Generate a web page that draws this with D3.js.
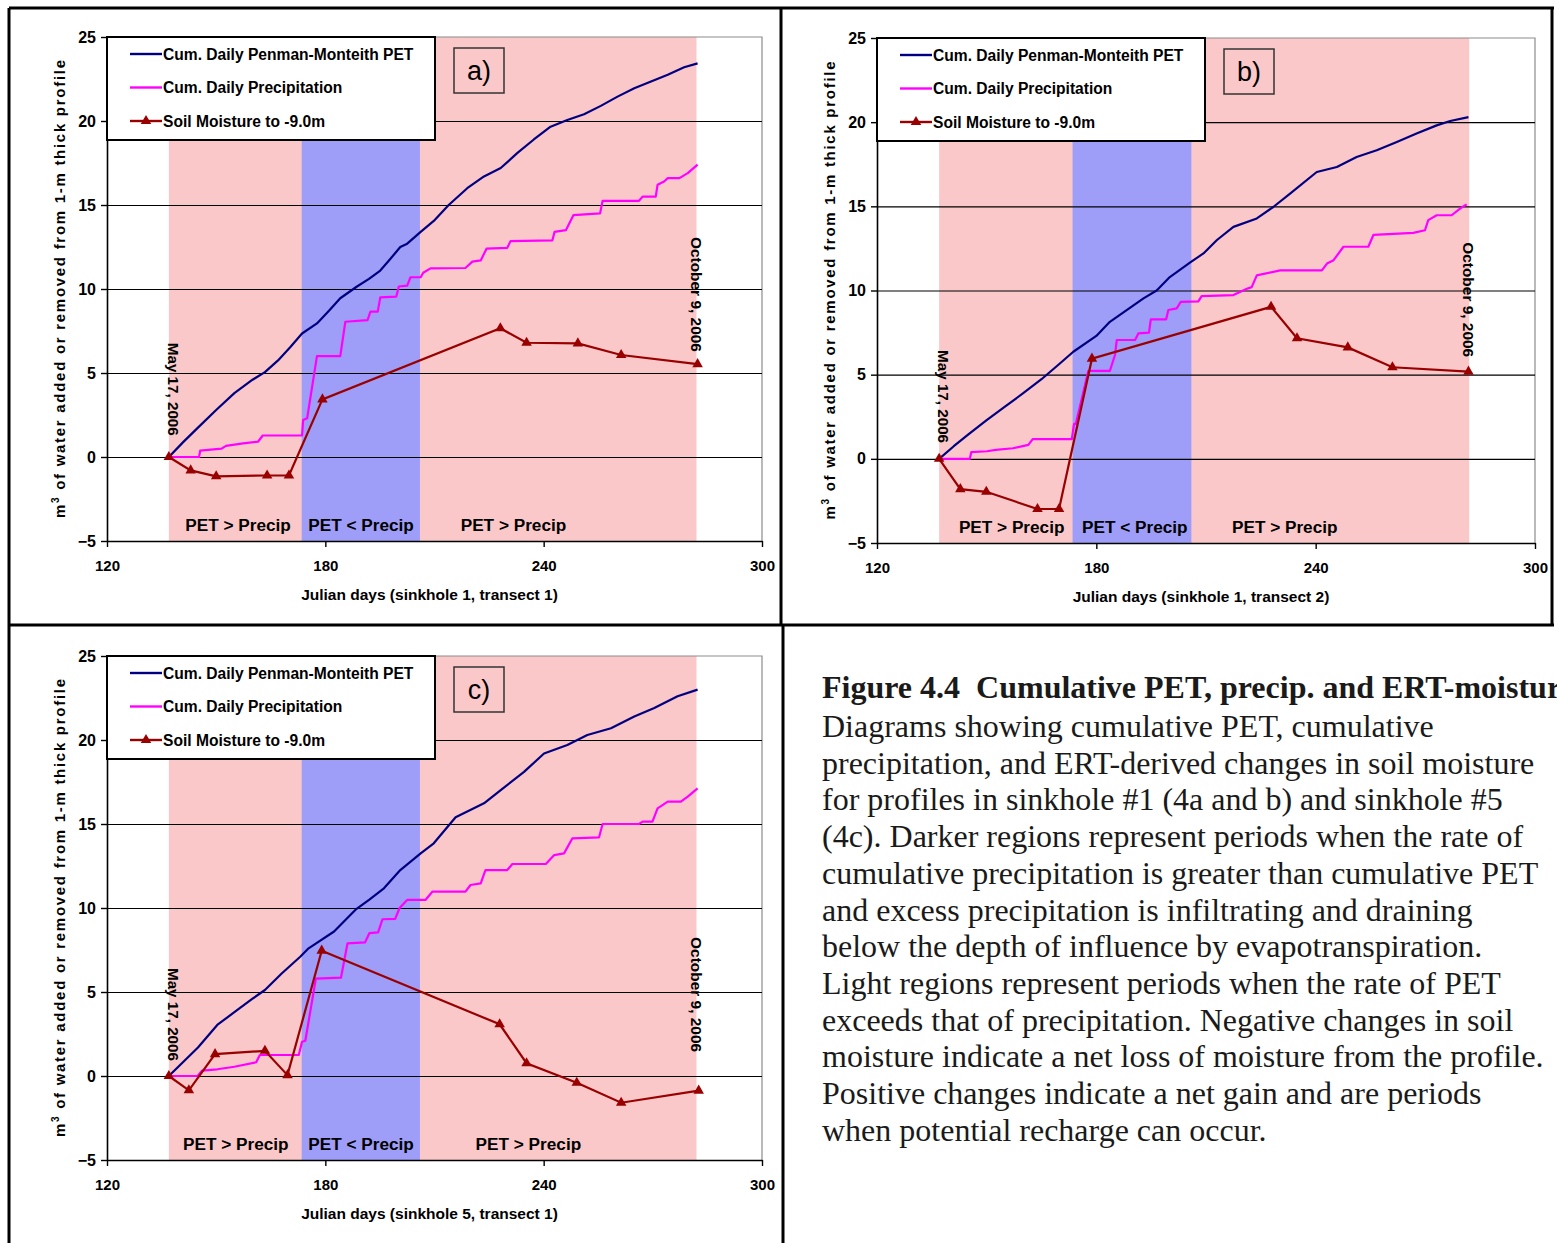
<!DOCTYPE html>
<html>
<head>
<meta charset="utf-8">
<script src="https://cdnjs.cloudflare.com/ajax/libs/d3/7.8.5/d3.min.js"></script>
<style>
  body { margin: 0; background: #fff; overflow: hidden; }
  text { font-family: "Liberation Sans", Arial, sans-serif; }
  .caption { font-family: "Liberation Serif", "Times New Roman", serif; fill: #1a1a1a; }
</style>
</head>
<body>
<svg id="fig" width="1557" height="1243"></svg>
<script>
var svg = d3.select("#fig");

// Axis values
var xTicks = [120, 180, 240, 300];
var yTicks = [-5, 0, 5, 10, 15, 20, 25];
var gridValues = [0, 5, 10, 15, 20];

// Periods in Julian days
var seasonStart = 137, seasonEnd = 282;   // May 17 - Oct 9, 2006
var wetStart = 173.5, wetEnd = 206;        // PET < Precip

var legendLabels = ["Cum. Daily Penman-Monteith PET", "Cum. Daily Precipitation", "Soil Moisture to -9.0m"];
var periodLabels = ["PET > Precip", "PET < Precip", "PET > Precip"];

// Panel a (sinkhole 1, transect 1) : [day, m3]
var petA = [[137,0],[141,0.9],[145,1.75],[150,2.8],[155,3.8],[160,4.6],[163.4,5.05],[167,5.75],[170.4,6.55],
  [173.6,7.35],[177.7,7.95],[181,8.7],[184.1,9.45],[188.7,10.15],[192,10.6],[195.1,11.1],[197.9,11.8],
  [200.6,12.5],[202.5,12.7],[206.2,13.4],[209.8,14.05],[213.9,15.0],[219,16.0],[223.6,16.7],[228.2,17.2],
  [232.8,18.1],[237.3,18.9],[241.9,19.66],[246.5,20.06],[251.1,20.4],[255.7,20.9],[260.3,21.45],
  [264.9,21.95],[269.5,22.35],[274.1,22.75],[278.6,23.2],[282.3,23.43]];
var precipA = [[137,0],[145.3,0],[145.6,0.38],[151.5,0.5],[152.7,0.66],[157.4,0.81],[161.5,0.91],[162.8,1.28],
  [173.6,1.28],[173.9,2.2],[175,2.3],[177.7,6.0],[184.1,6.0],[185.5,8.05],[191.6,8.15],[192.4,8.65],
  [194.4,8.65],[195.1,9.5],[199.5,9.55],[200.2,10.15],[202.5,10.2],[203.4,10.7],[206.2,10.7],[206.9,10.97],
  [208.9,11.23],[218.5,11.25],[220.4,11.63],[222.7,11.7],[224.3,12.4],[230,12.45],[230.9,12.85],[242.4,12.9],
  [243,13.4],[246.1,13.5],[248.2,14.4],[255.5,14.5],[256.2,15.25],[266.2,15.25],[267.2,15.5],[270.8,15.5],
  [271.3,16.2],[273.1,16.4],[274.1,16.6],[277.3,16.6],[279.6,16.9],[282.3,17.4]];
var soilA = [[137,0],[143,-0.8],[150,-1.15],[164,-1.1],[170,-1.1],[179.2,3.43],[228.1,7.66],[235.3,6.8],
  [249.4,6.76],[261.3,6.07],[282.3,5.53]];

// Panel b (sinkhole 1, transect 2)
var petB = [[137,0],[141,0.75],[145,1.45],[150,2.3],[155,3.1],[160,3.9],[165,4.73],[170.1,5.68],[173.7,6.36],
  [180,7.3],[183.7,8.14],[188.3,8.84],[192.9,9.53],[196.5,10.0],[200.1,10.8],[205.6,11.65],[209.3,12.2],
  [213,13.0],[217.5,13.78],[223.9,14.28],[228.4,14.96],[233,15.76],[240.3,17.04],[245.8,17.34],[251.2,17.93],
  [256.7,18.33],[262.2,18.82],[267.6,19.32],[273.1,19.81],[276.8,20.07],[281.8,20.3]];
var precipB = [[137,0],[145.4,0],[145.8,0.4],[150.1,0.45],[152.5,0.53],[157.2,0.63],[161.4,0.83],[162.6,1.17],
  [173.3,1.17],[173.9,2.08],[174.4,2.08],[177.8,5.22],[183.7,5.22],[185.1,6.17],[185.6,7.06],[190.6,7.06],
  [191.5,7.45],[194.4,7.5],[194.9,8.29],[199.1,8.29],[199.7,8.84],[202,8.94],[203.1,9.33],[207.9,9.35],
  [208.8,9.67],[217.5,9.73],[221.2,10.1],[222.5,10.2],[223.9,10.9],[230.3,11.2],[241.7,11.2],[243.1,11.6],
  [244.9,11.8],[247.6,12.6],[254.4,12.6],[255.8,13.3],[266.7,13.42],[269.9,13.58],[270.8,14.18],[273.1,14.47],
  [277.2,14.47],[279.5,14.87],[281.3,15.12]];
var soilB = [[137,0],[142.8,-1.8],[149.9,-1.96],[163.9,-2.98],[169.8,-2.98],[178.8,5.95],[227.8,9.03],
  [234.9,7.16],[248.8,6.62],[261,5.44],[281.8,5.18]];

// Panel c (sinkhole 5, transect 1)
var petC = [[137,0],[141,0.85],[145,1.7],[150.3,3.04],[155,3.8],[160,4.6],[163.4,5.12],[168,6.1],[173.1,7.1],
  [175.4,7.6],[182.4,8.6],[188.3,9.9],[192.1,10.5],[196.1,11.17],[200.6,12.26],[206.2,13.25],[209.8,13.85],
  [215.8,15.4],[223.6,16.23],[228.2,17.02],[234.6,18.1],[240.1,19.2],[246.5,19.7],[252,20.3],[258.5,20.7],
  [264.9,21.4],[270.4,21.9],[276.8,22.6],[282.3,23.0]];
var precipC = [[137,0],[144.9,0],[146.1,0.32],[150.3,0.4],[155,0.55],[161,0.82],[162,1.25],[172.7,1.25],
  [173.6,2.04],[174.5,2.1],[177.4,5.8],[184.3,5.85],[186.1,7.9],[190.9,7.95],[192.1,8.5],[194.5,8.55],
  [195.7,9.33],[199.2,9.35],[200.4,10.0],[202.5,10.48],[207.5,10.48],[209.4,10.97],[218.5,10.97],[219.9,11.37],
  [222.7,11.47],[224,12.26],[230,12.26],[231.4,12.62],[240.6,12.62],[242.9,13.15],[245.6,13.25],[247.9,14.15],
  [255.2,14.2],[256.2,15.0],[266.2,15.0],[267.2,15.14],[269.9,15.14],[271.3,15.93],[274.1,16.33],[277.7,16.33],
  [279.6,16.63],[282.3,17.12]];
var soilC = [[137,0],[142.5,-0.85],[149.7,1.3],[163.4,1.5],[169.6,0.05],[179,7.46],[227.9,3.08],[235.3,0.76],
  [249.1,-0.4],[261.3,-1.59],[282.6,-0.87]];

// caption (the title runs off the right edge, as in the page it was taken from)
var captionTitle = "Figure 4.4\u00a0 Cumulative PET, precip. and ERT-moisture";
var captionLines = [
  "Diagrams showing cumulative PET, cumulative",
  "precipitation, and ERT-derived changes in soil moisture",
  "for profiles in sinkhole #1 (4a and b) and sinkhole #5",
  "(4c). Darker regions represent periods when the rate of",
  "cumulative precipitation is greater than cumulative PET",
  "and excess precipitation is infiltrating and draining",
  "below the depth of influence by evapotranspiration.",
  "Light regions represent periods when the rate of PET",
  "exceeds that of precipitation. Negative changes in soil",
  "moisture indicate a net loss of moisture from the profile.",
  "Positive changes indicate a net gain and are periods",
  "when potential recharge can occur."
];

// colours
var pinkFill = "#fbc8c9", blueFill = "#9e9ef8";
var petColor = "#000080", precipColor = "#ff00ff", soilColor = "#990000";

var panels = [
  {name: "a)", left: 107, right: 762, top: 37, bottom: 541, pet: petA, precip: precipA, soil: soilA,
   xTitle: "Julian days (sinkhole 1, transect 1)", labelDays: [141.5, 175.3, 217.2], mayAt: 6.8, octAt: 13.1},
  {name: "b)", left: 877, right: 1535, top: 38, bottom: 543, pet: petB, precip: precipB, soil: soilB,
   xTitle: "Julian days (sinkhole 1, transect 2)", labelDays: [142.4, 176.1, 217.1], mayAt: 6.46, octAt: 12.87},
  {name: "c)", left: 107, right: 762, top: 656, bottom: 1160, pet: petC, precip: precipC, soil: soilC,
   xTitle: "Julian days (sinkhole 5, transect 1)", labelDays: [140.9, 175.3, 221.3], mayAt: 6.43, octAt: 8.27}
];

var triangle = d3.symbol().type(d3.symbolTriangle).size(48);

function drawPanel(p) {
  var g = svg.append("g");
  var x = d3.scaleLinear().domain([120, 300]).range([p.left, p.right]);
  var y = d3.scaleLinear().domain([-5, 25]).range([p.bottom, p.top]);

  // shaded periods
  g.append("rect")
    .attr("x", x(seasonStart)).attr("y", p.top)
    .attr("width", x(seasonEnd) - x(seasonStart)).attr("height", p.bottom - p.top)
    .attr("fill", pinkFill);
  g.append("rect")
    .attr("x", x(wetStart)).attr("y", p.top)
    .attr("width", x(wetEnd) - x(wetStart)).attr("height", p.bottom - p.top)
    .attr("fill", blueFill);

  // plot border (top / right)
  g.append("path")
    .attr("d", "M" + p.left + "," + p.top + "H" + p.right + "V" + p.bottom)
    .attr("fill", "none").attr("stroke", "#8c8c8c").attr("stroke-width", 1.2);

  // gridlines
  var grid = g.append("g")
    .attr("transform", "translate(" + p.left + ",0)")
    .call(d3.axisLeft(y).tickValues(gridValues).tickSize(-(p.right - p.left)).tickFormat(""));
  grid.select(".domain").remove();
  grid.selectAll("line").attr("stroke", "#000").attr("stroke-width", 1.1);

  // axes
  var yAxis = g.append("g")
    .attr("transform", "translate(" + p.left + ",0)")
    .call(d3.axisLeft(y).tickValues(yTicks).tickSize(6).tickSizeOuter(0).tickPadding(5));
  var xAxis = g.append("g")
    .attr("transform", "translate(0," + p.bottom + ")")
    .call(d3.axisBottom(x).tickValues(xTicks).tickSize(6).tickSizeOuter(0).tickPadding(13));
  [yAxis, xAxis].forEach(function(a) {
    a.select(".domain").attr("stroke", "#000").attr("stroke-width", 1.6);
    a.selectAll(".tick line").attr("stroke", "#000").attr("stroke-width", 1.4);
    a.selectAll("text").attr("fill", "#000")
      .style("font-family", "'Liberation Sans', Arial, sans-serif").style("font-weight", "bold");
  });
  yAxis.selectAll("text").style("font-size", "16px");
  xAxis.selectAll("text").style("font-size", "15px");

  // axis titles
  g.append("text")
    .attr("x", (p.left + p.right) / 2 - 5).attr("y", p.bottom + 59)
    .attr("text-anchor", "middle")
    .style("font-size", "15.5px").style("font-weight", "bold")
    .text(p.xTitle);
  var yt = g.append("text")
    .attr("transform", "translate(" + (p.left - 42) + "," + ((p.top + p.bottom) / 2) + ") rotate(-90)")
    .attr("text-anchor", "middle")
    .attr("textLength", 458).attr("lengthAdjust", "spacing")
    .style("font-size", "15px").style("font-weight", "bold");
  yt.append("tspan").text("m");
  yt.append("tspan").attr("dy", -6).style("font-size", "10px").text("3");
  yt.append("tspan").attr("dy", 6).text(" of water added or removed from 1-m thick profile");

  // series
  var line = d3.line().x(function(d) { return x(d[0]); }).y(function(d) { return y(d[1]); });
  g.append("path").datum(p.pet).attr("d", line)
    .attr("fill", "none").attr("stroke", petColor).attr("stroke-width", 2.2).attr("stroke-linejoin", "round");
  g.append("path").datum(p.precip).attr("d", line)
    .attr("fill", "none").attr("stroke", precipColor).attr("stroke-width", 2.2).attr("stroke-linejoin", "round");
  g.append("path").datum(p.soil).attr("d", line)
    .attr("fill", "none").attr("stroke", soilColor).attr("stroke-width", 2.2);
  g.selectAll(".tri").data(p.soil).enter().append("path")
    .attr("class", "tri")
    .attr("d", triangle)
    .attr("transform", function(d) { return "translate(" + x(d[0]) + "," + y(d[1]) + ")"; })
    .attr("fill", soilColor);

  // period labels
  g.selectAll(".period").data(periodLabels).enter().append("text")
    .attr("class", "period")
    .attr("x", function(d, i) { return x(p.labelDays[i]); })
    .attr("y", p.bottom - 10)
    .style("font-size", "17.2px").style("font-weight", "bold")
    .text(function(d) { return d; });

  // date labels
  g.append("text")
    .attr("transform", "translate(" + (x(seasonStart) - 1) + "," + y(p.mayAt) + ") rotate(90)")
    .attr("textLength", 93).attr("lengthAdjust", "spacingAndGlyphs")
    .style("font-size", "14.5px").style("font-weight", "bold")
    .text("May 17, 2006");
  g.append("text")
    .attr("transform", "translate(" + (x(seasonEnd) - 6) + "," + y(p.octAt) + ") rotate(90)")
    .attr("textLength", 115).attr("lengthAdjust", "spacingAndGlyphs")
    .style("font-size", "14.5px").style("font-weight", "bold")
    .text("October 9, 2006");

  // legend
  var lg = g.append("g").attr("transform", "translate(" + p.left + "," + p.top + ")");
  lg.append("rect").attr("width", 328).attr("height", 103)
    .attr("fill", "#fff").attr("stroke", "#000").attr("stroke-width", 2);
  var legendColors = [petColor, precipColor, soilColor];
  legendLabels.forEach(function(label, i) {
    var ly = 17 + i * 33.5;
    lg.append("line").attr("x1", 23).attr("x2", 55).attr("y1", ly).attr("y2", ly)
      .attr("stroke", legendColors[i]).attr("stroke-width", 2.4);
    if (i === 2) {
      lg.append("path").attr("d", triangle).attr("transform", "translate(39," + ly + ")").attr("fill", soilColor);
    }
    lg.append("text").attr("x", 56).attr("y", ly + 5.5)
      .style("font-size", "15.6px").style("font-weight", "bold")
      .text(label);
  });

  // panel letter
  var nb = g.append("g").attr("transform", "translate(" + (p.left + 347) + "," + (p.top + 11) + ")");
  nb.append("rect").attr("width", 50).attr("height", 45)
    .attr("fill", "none").attr("stroke", "#333").attr("stroke-width", 1.5);
  nb.append("text").attr("x", 25).attr("y", 32).attr("text-anchor", "middle")
    .style("font-size", "27px")
    .text(p.name);
}

panels.forEach(drawPanel);

// panel frames
svg.append("path")
  .attr("d", "M9,8H1554 M9,8V1243 M781,8V625 M9,625H1554 M783,625V1243 M1552,8V625")
  .attr("fill", "none").attr("stroke", "#000").attr("stroke-width", 3);

// caption
svg.append("text").attr("class", "caption")
  .attr("x", 822).attr("y", 698)
  .style("font-size", "32px").style("font-weight", "bold")
  .text(captionTitle);
svg.selectAll(".capline").data(captionLines).enter().append("text")
  .attr("class", "caption capline")
  .attr("x", 822)
  .attr("y", function(d, i) { return 737 + i * 36.7; })
  .style("font-size", "32px")
  .text(function(d) { return d; });
</script>
</body>
</html>
